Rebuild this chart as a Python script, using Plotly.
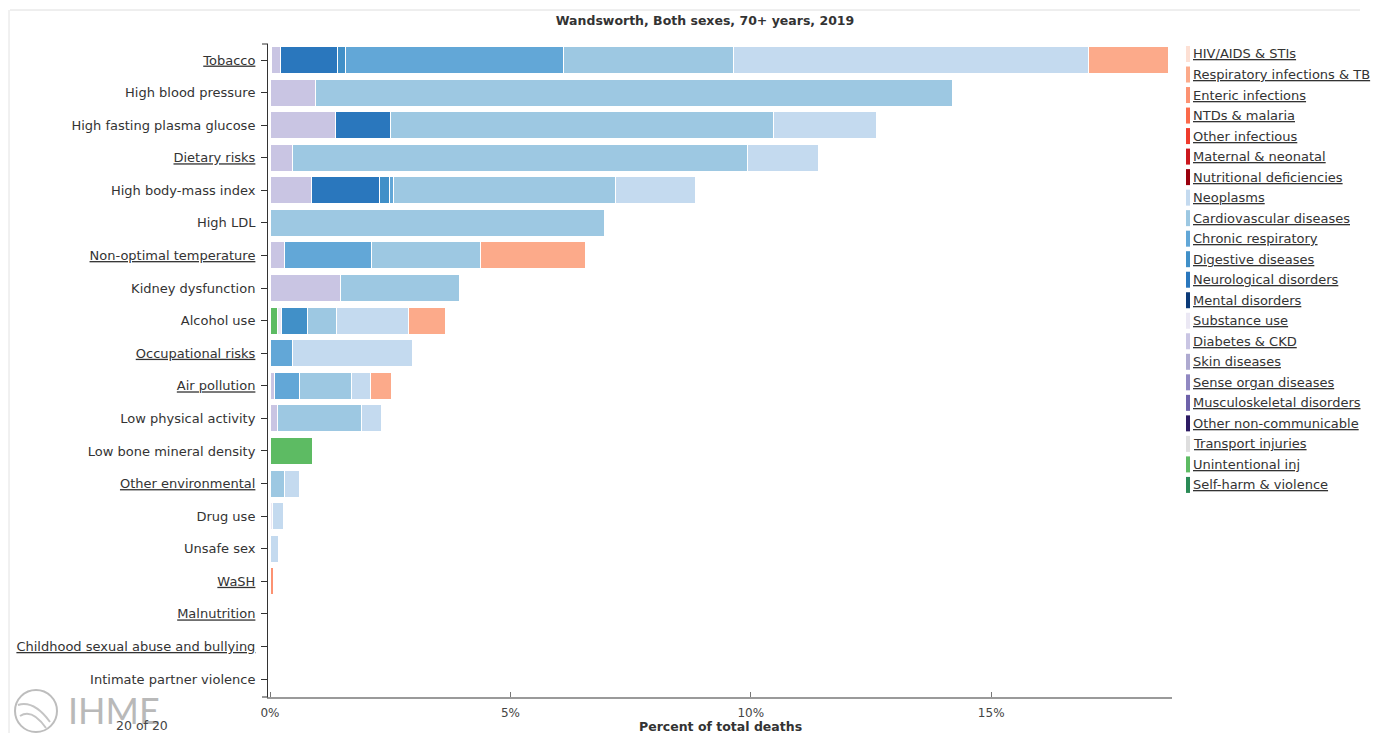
import plotly.graph_objects as go

# Risk factors, top to bottom
risks = [
    "Tobacco", "High blood pressure", "High fasting plasma glucose", "Dietary risks",
    "High body-mass index", "High LDL", "Non-optimal temperature", "Kidney dysfunction",
    "Alcohol use", "Occupational risks", "Air pollution", "Low physical activity",
    "Low bone mineral density", "Other environmental", "Drug use", "Unsafe sex",
    "WaSH", "Malnutrition", "Childhood sexual abuse and bullying", "Intimate partner violence",
]
# risk groups with sub-risks are shown underlined
risk_groups = {"Tobacco", "Dietary risks", "Non-optimal temperature", "Occupational risks",
               "Air pollution", "Other environmental", "WaSH", "Malnutrition",
               "Childhood sexual abuse and bullying"}

# Percent of total deaths attributable to each risk, by cause group
unintentional_inj = [0.04, 0, 0, 0, 0, 0, 0, 0, 0.15, 0, 0, 0, 0.88, 0, 0, 0, 0, 0, 0, 0]
diabetes_ckd      = [0.17, 0.94, 1.36, 0.46, 0.87, 0, 0.31, 1.46, 0, 0, 0.10, 0.15, 0, 0, 0, 0, 0, 0, 0, 0]
substance_use     = [0, 0, 0, 0, 0, 0, 0, 0, 0.09, 0, 0, 0, 0, 0, 0.05, 0, 0, 0, 0, 0]
neurological      = [1.20, 0, 1.15, 0, 1.40, 0, 0, 0, 0, 0, 0, 0, 0, 0, 0, 0, 0, 0, 0, 0]
digestive         = [0.15, 0, 0, 0, 0.21, 0, 0, 0, 0.54, 0, 0, 0, 0, 0, 0, 0, 0, 0, 0, 0]
chronic_resp      = [4.55, 0, 0, 0, 0.08, 0, 1.80, 0, 0, 0.46, 0.52, 0, 0, 0, 0, 0, 0, 0, 0, 0]
cardiovascular    = [3.54, 13.25, 7.96, 9.47, 4.62, 6.95, 2.27, 2.49, 0.61, 0, 1.08, 1.76, 0, 0.31, 0, 0, 0, 0, 0, 0]
neoplasms         = [7.37, 0, 2.15, 1.47, 1.66, 0, 0, 0, 1.49, 2.51, 0.40, 0.40, 0, 0.31, 0.24, 0.17, 0, 0, 0, 0]
enteric           = [0, 0, 0, 0, 0, 0, 0, 0, 0, 0, 0, 0, 0, 0, 0, 0, 0.08, 0, 0, 0]
resp_infections   = [1.66, 0, 0, 0, 0, 0, 2.19, 0, 0.78, 0, 0.42, 0, 0, 0, 0, 0, 0, 0, 0, 0]

# Cause groups as listed in the legend, with their colours
causes = [
    "HIV/AIDS & STIs", "Respiratory infections & TB", "Enteric infections", "NTDs & malaria",
    "Other infectious", "Maternal & neonatal", "Nutritional deficiencies", "Neoplasms",
    "Cardiovascular diseases", "Chronic respiratory", "Digestive diseases",
    "Neurological disorders", "Mental disorders", "Substance use", "Diabetes & CKD",
    "Skin diseases", "Sense organ diseases", "Musculoskeletal disorders",
    "Other non-communicable", "Transport injuries", "Unintentional inj", "Self-harm & violence",
]
cause_colors = [
    "#fde0d4", "#fcaa8a", "#fc9272", "#fb6a4a", "#ef3b2c", "#cb181d", "#99000d",
    "#c4daef", "#9dc8e2", "#62a7d7", "#4190c8", "#2a77bd", "#0b3a78",
    "#ebe8f4", "#c9c5e3", "#aeaad0", "#9189c2", "#6e62aa", "#2d1b63",
    "#dedede", "#5dbb63", "#2a8a56",
]
color_of = dict(zip(causes, cause_colors))

# stacked left to right in reverse legend order
series = [
    ("Unintentional inj", unintentional_inj),
    ("Diabetes & CKD", diabetes_ckd),
    ("Substance use", substance_use),
    ("Neurological disorders", neurological),
    ("Digestive diseases", digestive),
    ("Chronic respiratory", chronic_resp),
    ("Cardiovascular diseases", cardiovascular),
    ("Neoplasms", neoplasms),
    ("Enteric infections", enteric),
    ("Respiratory infections & TB", resp_infections),
]

FONT = "DejaVu Sans"
W, H = 1389, 733
L, R, T, B = 268, 1172, 44, 697


def px(x):
    return (x - L) / (R - L)


def py(y):
    return (B - y) / (B - T)


def ul(s):
    return f'<span style="text-decoration:underline">{s}</span>'


fig = go.Figure()
for name, vals in series:
    fig.add_trace(go.Bar(
        y=risks, x=vals, name=name, orientation="h",
        marker=dict(color=color_of[name], line=dict(color="white", width=1)),
        showlegend=False,
        hovertemplate="%{y}<br>" + name + ": %{x:.2f}%<extra></extra>",
    ))

shapes = []
annotations = []

# legend: thin colour swatches with underlined labels
for i, (name, col) in enumerate(zip(causes, cause_colors)):
    yc = 54 + i * 20.52
    shapes.append(dict(type="rect", xref="paper", yref="paper",
                       x0=px(1186), x1=px(1190), y0=py(yc + 8), y1=py(yc - 8),
                       fillcolor=col, line=dict(width=0)))
    annotations.append(dict(text=ul(name), xref="paper", yref="paper",
                            x=px(1191), y=py(yc), xanchor="left", yanchor="middle",
                            showarrow=False, font=dict(family=FONT, size=13, color="#333")))

# outer ticks closing the y axis line
for yv in (0, 1):
    shapes.append(dict(type="line", xref="paper", yref="paper",
                       x0=px(262), x1=px(268), y0=yv, y1=yv,
                       line=dict(color="#333", width=1)))

# frame of the panel
shapes.append(dict(type="line", xref="paper", yref="paper", x0=px(10), x1=px(1360),
                   y0=py(10), y1=py(10), line=dict(color="#dedede", width=1)))
shapes.append(dict(type="line", xref="paper", yref="paper", x0=px(9), x1=px(9),
                   y0=py(10), y1=py(733), line=dict(color="#e2e2e2", width=1)))

# IHME mark
shapes.append(dict(type="circle", xref="paper", yref="paper",
                   x0=px(15), x1=px(57), y0=py(690), y1=py(732),
                   line=dict(color="#bdbdbd", width=2)))
shapes.append(dict(type="path", xref="paper", yref="paper",
                   path=f"M {px(18)},{py(705)} Q {px(34)},{py(700)} {px(50)},{py(722)}",
                   line=dict(color="#c4c4c4", width=2)))
shapes.append(dict(type="path", xref="paper", yref="paper",
                   path=f"M {px(20)},{py(716)} Q {px(32)},{py(708)} {px(46)},{py(728)}",
                   line=dict(color="#c4c4c4", width=2)))
annotations.append(dict(text="IHME", xref="paper", yref="paper", x=px(66), y=py(710),
                        xanchor="left", yanchor="middle", showarrow=False,
                        font=dict(family="Lato", size=36, color="#b9b9b9")))
annotations.append(dict(text="20 of 20", xref="paper", yref="paper", x=px(142), y=py(725),
                        xanchor="center", yanchor="middle", showarrow=False,
                        font=dict(family=FONT, size=12.5, color="#444")))

# x axis title
annotations.append(dict(text="<b>Percent of total deaths</b>", xref="paper", yref="paper",
                        x=px(720), y=py(726), xanchor="center", yanchor="middle",
                        showarrow=False, font=dict(family=FONT, size=12.5, color="#333")))

x0 = -2 / 48.08
fig.update_layout(
    width=W, height=H,
    margin=dict(l=L, r=W - R, t=T, b=H - B, pad=0),
    paper_bgcolor="white", plot_bgcolor="white",
    barmode="stack", bargap=0.17,
    title=dict(text="<b>Wandsworth, Both sexes, 70+ years, 2019</b>",
               x=705 / W, y=1 - 21 / H, xanchor="center", yanchor="middle",
               xref="container", yref="container",
               font=dict(family=FONT, size=12.5, color="#333")),
    xaxis=dict(range=[x0, x0 + (R - L) / 48.08], showgrid=False, zeroline=False,
               showline=True, linecolor="#9a9a9a", linewidth=2,
               ticks="inside", ticklen=5, tickcolor="#777", tickwidth=1,
               ticklabelstandoff=4,
               tickvals=[0, 5, 10, 15, 18.74], ticktext=["0%", "5%", "10%", "15%", ""],
               tickfont=dict(family=FONT, size=12, color="#444")),
    yaxis=dict(categoryorder="array", categoryarray=risks,
               range=[19 + (B - 679) / 32.58, -(60 - T) / 32.58],
               showgrid=False, zeroline=False, showline=True, linecolor="#333", linewidth=1,
               ticks="outside", ticklen=6, tickcolor="#333",
               ticklabelstandoff=3,
               tickvals=risks,
               ticktext=[ul(r) if r in risk_groups else r for r in risks],
               tickfont=dict(family=FONT, size=13, color="#333")),
    shapes=shapes, annotations=annotations,
)

fig.write_html("out.html")
